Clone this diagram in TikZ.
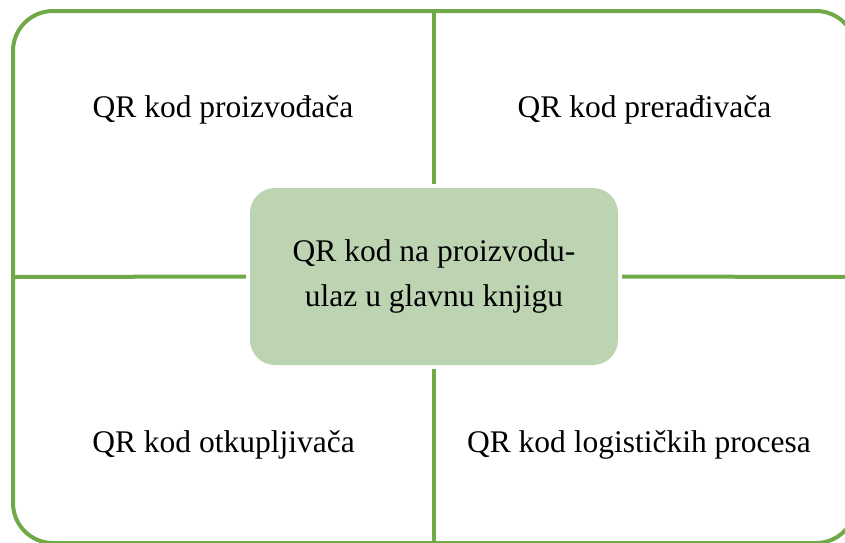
\documentclass[tikz,border=0pt]{standalone}
\usepackage{fontspec}
\setmainfont{Liberation Serif}
\definecolor{leafgreen}{RGB}{112,170,72}
\definecolor{palegreen}{RGB}{188,212,178}
\tikzset{
  frame/.style={draw=leafgreen, line width=4pt, rounded corners=40pt},
  divider/.style={draw=leafgreen, line width=4pt},
  qrlabel/.style={anchor=base, font=\fontsize{31.5}{45}\selectfont},
  centrebox/.style={fill=palegreen, rounded corners=25pt, minimum width=368pt,
    minimum height=177pt, align=center, outer sep=4pt, font=\fontsize{31.5}{45}\selectfont}
}
\begin{document}
\begin{tikzpicture}[x=1pt,y=-1pt]
    \path[use as bounding box, clip](0,0)rectangle(845,542);

    \draw[frame](13,11)rectangle(856,543);

    \node[centrebox](centre)at(434,276.5){QR kod na proizvodu-\\ulaz u glavnu knjigu};

    \coordinate(topedge)at(434,11);
    \coordinate(bottomedge)at(434,543);
    \coordinate(leftedge)at(13,277);
    \coordinate(rightedge)at(856,277);
    \draw[divider](centre.north)--(topedge);
    \draw[divider](centre.south)--(bottomedge);
    \draw[divider](centre.west)--(leftedge);
    \draw[divider](centre.east)--(rightedge);

    \node[qrlabel](proizv)at(223,117){QR kod proizvođača};
    \node[qrlabel](prerad)at(644.5,117){QR kod prerađivača};
    \node[qrlabel](otkup)at(223.5,452){QR kod otkupljivača};
    \node[qrlabel](logist)at(639,452){QR kod logističkih procesa};
\end{tikzpicture}
\end{document}
